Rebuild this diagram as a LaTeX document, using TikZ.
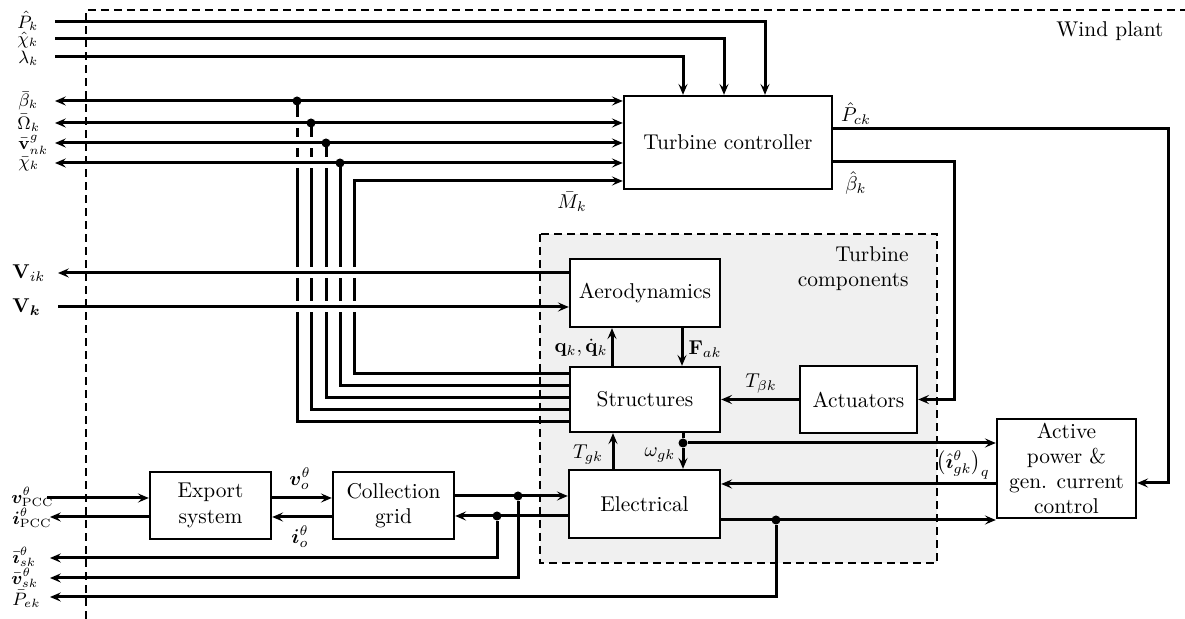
\documentclass[tikz,border=0pt]{standalone}
\usepackage{bm}
\usetikzlibrary{arrows.meta}

\begin{document}
\begin{tikzpicture}[
    x=0.5pt, y=-0.5pt,
    >={Stealth[length=5.5pt,width=4.6pt,inset=2.2pt]},
    bloque/.style={
        draw,
        line width=1.2pt,
        fill=white,
        align=center,
        inner sep=2pt,
        font=\fontsize{10.7}{12.6}\selectfont
    },
    senal/.style={line width=1.5pt},
    hueco/.style={white, line width=5.5pt},
    punto/.style={circle, fill, inner sep=0pt, minimum size=4.5pt},
    zona/.style={line width=1pt, dash pattern=on 4pt off 2.5pt},
    etq/.style={inner sep=0pt},
    borde/.style={etq, anchor=west, font=\small}
]
    \useasboundingbox (0,0) rectangle (1185,619);

    % zonas
    \draw[zona] (86,619) -- (86,10) -- (1185,10);
    \node[etq, font=\fontsize{10.7}{12.6}\selectfont] (planta) at (1110,31) {Wind plant};
    \fill[black!6] (540,234) rectangle (937,563);
    \draw[zona] (540,234) rectangle (937,563);
    \node[etq, align=right, anchor=north east, font=\fontsize{10.7}{12.6}\selectfont]
        (compo) at (909,246) {Turbine\\components};

    % bloques
    \node[bloque, minimum width=104pt, minimum height=46.5pt] (ctrl) at (728,142.5)
        {Turbine controller};
    \node[bloque, minimum width=75pt, minimum height=34pt] (aero) at (645,293)
        {Aerodynamics};
    \node[bloque, minimum width=75pt, minimum height=32.5pt] (struct) at (645,399.5)
        {Structures};
    \node[bloque, minimum width=58.5pt, minimum height=33.5pt] (act) at (858.5,399.5)
        {Actuators};
    \node[bloque, minimum width=75.5pt, minimum height=34pt] (elec) at (644.5,504)
        {Electrical};
    \node[bloque, minimum width=69.5pt, minimum height=49.5pt] (apc) at (1066.5,468.5)
        {Active\\power \&\\gen. current\\control};
    \node[bloque, minimum width=60.5pt, minimum height=33.5pt] (export) at (210.5,505.5)
        {Export\\system};
    \node[bloque, minimum width=60.5pt, minimum height=33.5pt] (grid) at (393.5,505.5)
        {Collection\\grid};

    % puntos de derivacion
    \node[punto] (b1) at (297,101) {};
    \node[punto] (b2) at (311,123) {};
    \node[punto] (b3) at (326,143) {};
    \node[punto] (b4) at (340,163) {};
    \node[punto] (w) at (683,443) {};
    \node[punto] (e) at (776,520) {};
    \node[punto] (s1) at (518,496) {};
    \node[punto] (s2) at (497,516) {};

    % extremos libres
    \coordinate (inP) at (55,22);
    \coordinate (inChi) at (55,39);
    \coordinate (inLam) at (55,57);
    \coordinate (oBeta) at (55,101);
    \coordinate (oOm) at (55,123);
    \coordinate (oVn) at (55,143);
    \coordinate (oChi) at (55,163);
    \coordinate (oVi) at (58,273);
    \coordinate (inV) at (58,307);
    \coordinate (inPCC) at (47,498);
    \coordinate (oPCC) at (50,517);
    \coordinate (oIs) at (50,558);
    \coordinate (oVs) at (50,578);
    \coordinate (oPe) at (50,597);

    % bus de estructuras
    \draw[senal] (b1.center) |- (struct.west |- 0,422);
    \draw[senal] (b2.center) |- (struct.west |- 0,410);
    \draw[senal] (b3.center) |- (struct.west |- 0,398);
    \draw[senal] (b4.center) |- (struct.west |- 0,386);
    \draw[senal,->] (struct.west |- 0,374) -| (354,181) -- (ctrl.west |- 0,181);
    \foreach \y/\xr in {123/304, 143/318, 163/333, 273/362, 307/362}
        \draw[hueco] (290,\y) -- (\xr,\y);

    % entradas al controlador
    \draw[senal,->] (inP) -| (765,0 |- ctrl.north);
    \draw[senal,->] (inChi) -| (724,0 |- ctrl.north);
    \draw[senal,->] (inLam) -| (683,0 |- ctrl.north);
    \draw[senal,<->] (oBeta) -- (ctrl.west |- b1);
    \draw[senal,<->] (oOm) -- (ctrl.west |- b2);
    \draw[senal,<->] (oVn) -- (ctrl.west |- b3);
    \draw[senal,<->] (oChi) -- (ctrl.west |- b4);

    % salidas del controlador
    \draw[senal,->] (ctrl.east |- 0,129) -| (1168,0 |- apc.east) |- (apc.east |- 0,483);
    \draw[senal,->] (ctrl.east |- 0,162) -| (954,0 |- act.east) -- (act.east);

    % componentes
    \draw[senal,->] (aero.west |- oVi) -- (oVi);
    \draw[senal,->] (inV) -- (aero.west |- inV);
    \draw[senal,->] (struct.north -| 612,0) -- (aero.south -| 612,0);
    \draw[senal,->] (aero.south -| 682,0) -- (struct.north -| 682,0);
    \draw[senal,->] (act.west) -- (struct.east |- act.west);
    \draw[senal,->] (elec.north -| 613,0) -- (struct.south -| 613,0);
    \draw[senal] (struct.south -| w) -- (w);
    \draw[senal,->] (w) -- (elec.north -| w);
    \draw[senal,->] (w) -- (apc.west |- w);
    \draw[senal,->] (apc.west |- 0,484) -- (elec.east |- 0,484);
    \draw[senal,->] (elec.east |- e) -- (apc.west |- e);
    \draw[senal,->] (e) |- (oPe);

    % red
    \draw[senal,->] (grid.east |- s1) -- (elec.west |- s1);
    \draw[senal,->] (s1) |- (oVs);
    \draw[senal,->] (elec.west |- s2) -- (grid.east |- s2);
    \draw[senal,->] (s2) |- (oIs);
    \draw[senal,->] (export.east |- 0,498) -- (grid.west |- 0,498);
    \draw[senal,->] (grid.west |- 0,517) -- (export.east |- 0,517);
    \draw[senal,->] (inPCC) -- (export.west |- inPCC);
    \draw[senal,->] (export.west |- oPCC) -- (oPCC);

    % etiquetas
    \node[borde] (lP) at (17,21) {$\hat{P}_k$};
    \node[borde] (lChi) at (17,40) {$\hat{\chi}_k$};
    \node[borde] (lLam) at (18,58) {$\lambda_k$};
    \node[borde] (lBeta) at (18,101) {$\bar{\beta}_k$};
    \node[borde] (lOm) at (17,123) {$\bar{\Omega}_k$};
    \node[borde] (lVn) at (18,145) {$\bar{\mathbf{v}}^{g}_{nk}$};
    \node[borde] (lChib) at (18,164) {$\bar{\chi}_k$};
    \node[borde, font=\normalsize] (lVi) at (12,273) {$\mathbf{V}_{ik}$};
    \node[borde, font=\normalsize] (lV) at (12,307) {$\mathbf{V}_{\bm{k}}$};
    \node[borde] (lvPCC) at (11,497) {$\bm{v}^{\theta}_{\mathrm{PCC}}$};
    \node[borde] (liPCC) at (12,518) {$\bm{i}^{\theta}_{\mathrm{PCC}}$};
    \node[borde] (lIs) at (12,557) {$\bar{\bm{\imath}}^{\theta}_{sk}$};
    \node[borde] (lVs) at (11,578) {$\bar{\bm{v}}^{\theta}_{sk}$};
    \node[borde] (lPe) at (12,599) {$\bar{P}_{ek}$};
    \node[etq] (lM) at (572,202) {$\bar{M}_k$};
    \node[etq] (lPc) at (856,114) {$\hat{P}_{ck}$};
    \node[etq] (lBh) at (856,183) {$\hat{\beta}_k$};
    \node[etq] (lq) at (581,348) {$\mathbf{q}_k,\dot{\mathbf{q}}_k$};
    \node[etq] (lF) at (705,349) {$\mathbf{F}_{ak}$};
    \node[etq] (lTb) at (761,384) {$T_{\beta k}$};
    \node[etq] (lTg) at (588,455) {$T_{gk}$};
    \node[etq] (lw) at (660,455) {$\omega_{gk}$};
    \node[etq] (lig) at (963,465) {$\big(\hat{\bm{\imath}}^{\theta}_{gk}\big)_q$};
    \node[etq] (lvo) at (300,479) {$\bm{v}^{\theta}_{o}$};
    \node[etq] (lio) at (300,537) {$\bm{i}^{\theta}_{o}$};
\end{tikzpicture}
\end{document}
